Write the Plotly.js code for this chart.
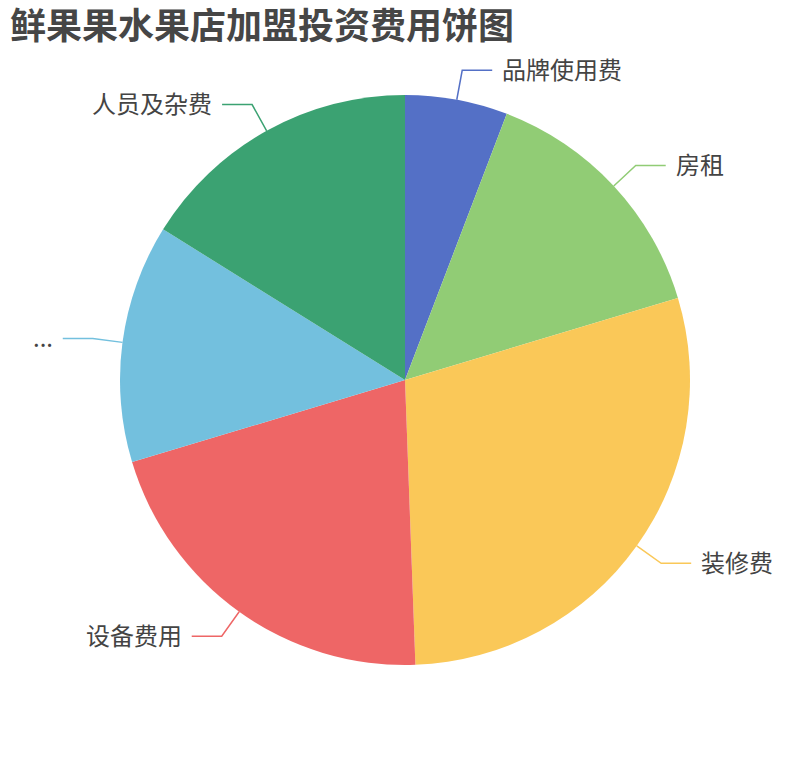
<!DOCTYPE html>
<html>
<head>
<meta charset="utf-8">
<script src="https://cdn.plot.ly/plotly-3.0.1.min.js"></script>
<style>
    html, body { margin: 0; padding: 0; background: #fff; }
    #chart { width: 810px; height: 760px; }
</style>
</head>
<body>
<div id="chart"></div>
<script>
let names = ['品牌使用费', '房租', '装修费', '设备费用', '...', '人员及杂费'];
let values = [2, 5, 10, 7.2, 4.65, 5.55];
let colors = ['#5470c6', '#91cc75', '#fac858', '#ee6666', '#73c0de', '#3ba272'];

let W = 810;
let H = 760;
let cx = 405;          // pie centre, px
let cy = 380;
let R = 285;           // pie radius, px
let len1 = 30;         // radial part of the label line
let len2 = 30;         // horizontal part
let gap = 8;

function px(x) { return x / W; }
function py(y) { return 1 - y / H; }

let total = values.reduce(function (a, b) { return a + b; }, 0);
let shapes = [];
let annotations = [];
let acc = 0;

for (let i = 0; i < values.length; i++) {
    let mid = (acc + values[i] / 2) / total * 2 * Math.PI;   // clockwise from 12 o'clock
    acc += values[i];

    let sx = cx + R * Math.sin(mid);
    let sy = cy - R * Math.cos(mid);
    let ex = cx + (R + len1) * Math.sin(mid);
    let ey = cy - (R + len1) * Math.cos(mid);
    let right = Math.sin(mid) >= 0;
    let hx = right ? ex + len2 : ex - len2;

    shapes.push({
        type: 'path',
        xref: 'paper',
        yref: 'paper',
        path: 'M ' + px(sx) + ' ' + py(sy) + ' L ' + px(ex) + ' ' + py(ey) + ' L ' + px(hx) + ' ' + py(ey),
        line: { color: colors[i], width: 1.5 }
    });

    annotations.push({
        xref: 'paper',
        yref: 'paper',
        x: px(right ? hx + gap : hx - gap),
        y: py(ey - 2),
        xanchor: right ? 'left' : 'right',
        yanchor: 'middle',
        text: names[i],
        showarrow: false,
        font: { size: 24, color: '#444', family: 'Noto Sans CJK SC' }
    });
}

let data = [{
    type: 'pie',
    labels: names,
    values: values,
    sort: false,
    direction: 'clockwise',
    rotation: 0,
    textinfo: 'none',
    textposition: 'none',
    hoverinfo: 'label+value+percent',
    marker: { colors: colors, line: { width: 0 } },
    domain: {
        x: [px(cx - R), px(cx + R)],
        y: [py(cy + R), py(cy - R)]
    }
}];

let layout = {
    width: W,
    height: H,
    margin: { l: 0, r: 0, t: 0, b: 0 },
    paper_bgcolor: '#fff',
    showlegend: false,
    font: { family: 'Noto Sans CJK SC', color: '#444' },
    title: {
        text: '鲜果果水果店加盟投资费用饼图',
        x: px(10),
        xanchor: 'left',
        xref: 'paper',
        y: py(26),
        yanchor: 'middle',
        yref: 'container',
        font: { size: 36, weight: 'bold', color: '#464646', family: 'Noto Sans CJK SC' }
    },
    shapes: shapes,
    annotations: annotations
};

Plotly.newPlot('chart', data, layout, { displayModeBar: false });
</script>
</body>
</html>
